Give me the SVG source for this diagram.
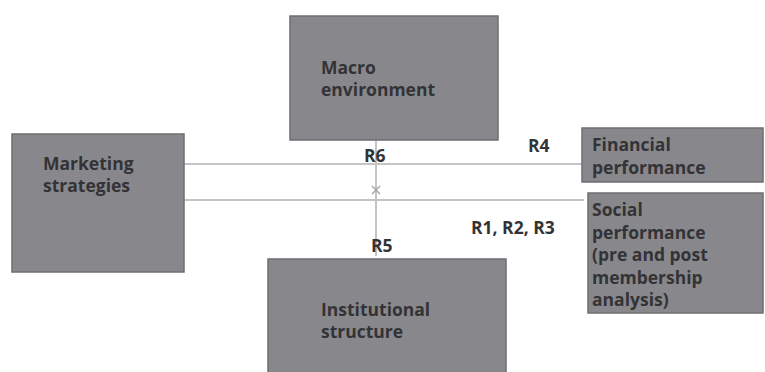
<svg xmlns="http://www.w3.org/2000/svg" width="765" height="372" viewBox="0 0 765 372">
<style>
.box{fill:#88888c;stroke:#6e6e70;stroke-width:1.5}
.t{font-family:"Open Sans","Liberation Sans",sans-serif;font-weight:bold;font-size:17.5px;fill:#333336}
.ln{stroke:#c4c4c6;stroke-width:2;fill:none}
</style>
<rect width="765" height="372" fill="#ffffff"/>
<g id="connectors">
<line class="ln" x1="184" y1="164" x2="582" y2="164"/>
<line class="ln" x1="184" y1="200" x2="584" y2="200"/>
<line class="ln" x1="376" y1="140" x2="376" y2="256"/>
<path d="M372 186 L380 194 M380 186 L372 194" stroke="#a8a8aa" stroke-width="1.5"/>
<text class="t" x="364" y="162">R6</text>
<text class="t" x="528" y="152">R4</text>
<text class="t" x="471" y="234">R1, R2, R3</text>
<text class="t" x="371" y="252">R5</text>
</g>
<g id="macro">
<rect class="box" x="290" y="16" width="208" height="124"/>
<text class="t" x="321" y="74">Macro</text>
<text class="t" x="321" y="96">environment</text>
</g>
<g id="marketing">
<rect class="box" x="12" y="134" width="172" height="138"/>
<text class="t" x="43" y="170">Marketing</text>
<text class="t" x="43" y="192">strategies</text>
</g>
<g id="financial">
<rect class="box" x="582" y="128" width="181" height="54"/>
<text class="t" x="592" y="151">Financial</text>
<text class="t" x="592" y="174">performance</text>
</g>
<g id="social">
<rect class="box" x="588" y="193" width="175" height="120"/>
<text class="t" x="592" y="216">Social</text>
<text class="t" x="592" y="239">performance</text>
<text class="t" x="592" y="261">(pre and post</text>
<text class="t" x="592" y="284">membership</text>
<text class="t" x="592" y="306">analysis)</text>
</g>
<g id="institutional">
<rect class="box" x="268" y="259" width="238" height="120"/>
<text class="t" x="321" y="316">Institutional</text>
<text class="t" x="321" y="338">structure</text>
</g>
</svg>
